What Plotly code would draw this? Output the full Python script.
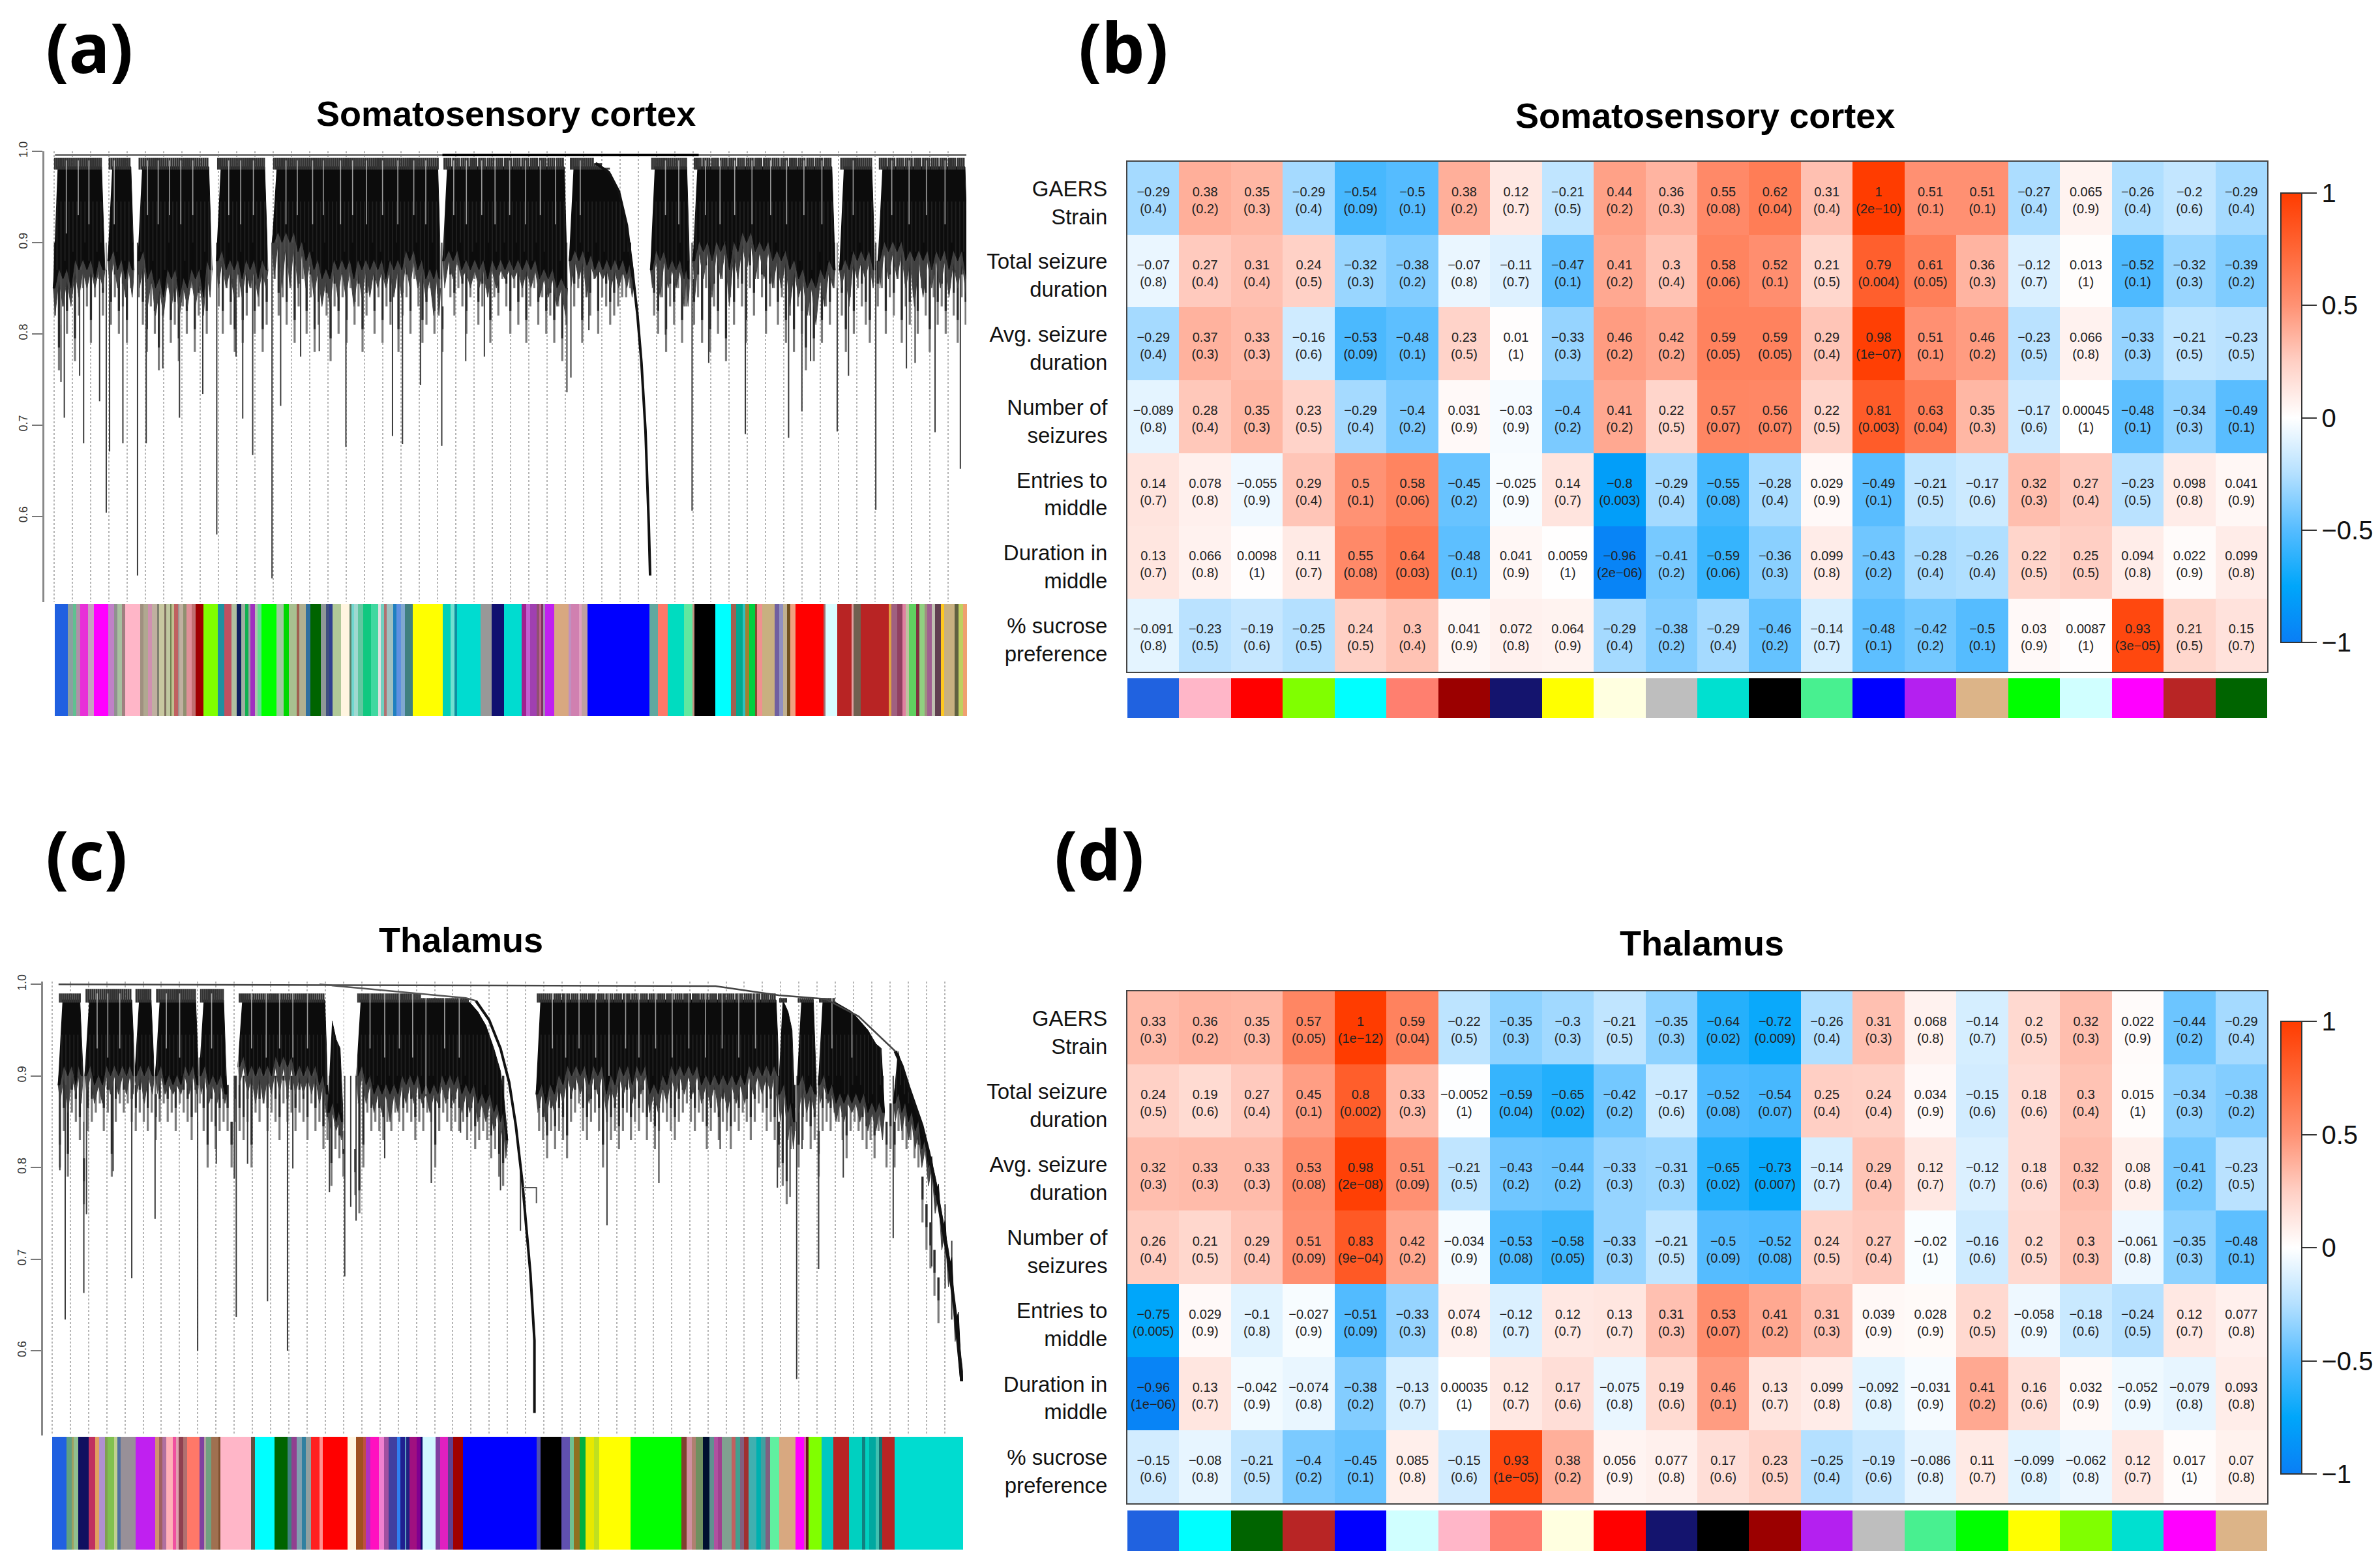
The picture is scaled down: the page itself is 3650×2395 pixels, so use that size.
import plotly.graph_objects as go

W, H = 3650, 2395

# ---------- module-trait tables ----------
trait_labels = ["GAERS<br>Strain", "Total seizure<br>duration", "Avg. seizure<br>duration", "Number of<br>seizures",
                "Entries to<br>middle", "Duration in<br>middle", "% sucrose<br>preference"]

b_z = [
 [-0.29,0.38,0.35,-0.29,-0.54,-0.5,0.38,0.12,-0.21,0.44,0.36,0.55,0.62,0.31,1,0.51,0.51,-0.27,0.065,-0.26,-0.2,-0.29],
 [-0.07,0.27,0.31,0.24,-0.32,-0.38,-0.07,-0.11,-0.47,0.41,0.3,0.58,0.52,0.21,0.79,0.61,0.36,-0.12,0.013,-0.52,-0.32,-0.39],
 [-0.29,0.37,0.33,-0.16,-0.53,-0.48,0.23,0.01,-0.33,0.46,0.42,0.59,0.59,0.29,0.98,0.51,0.46,-0.23,0.066,-0.33,-0.21,-0.23],
 [-0.089,0.28,0.35,0.23,-0.29,-0.4,0.031,-0.03,-0.4,0.41,0.22,0.57,0.56,0.22,0.81,0.63,0.35,-0.17,0.00045,-0.48,-0.34,-0.49],
 [0.14,0.078,-0.055,0.29,0.5,0.58,-0.45,-0.025,0.14,-0.8,-0.29,-0.55,-0.28,0.029,-0.49,-0.21,-0.17,0.32,0.27,-0.23,0.098,0.041],
 [0.13,0.066,0.0098,0.11,0.55,0.64,-0.48,0.041,0.0059,-0.96,-0.41,-0.59,-0.36,0.099,-0.43,-0.28,-0.26,0.22,0.25,0.094,0.022,0.099],
 [-0.091,-0.23,-0.19,-0.25,0.24,0.3,0.041,0.072,0.064,-0.29,-0.38,-0.29,-0.46,-0.14,-0.48,-0.42,-0.5,0.03,0.0087,0.93,0.21,0.15],
]
b_p = [
 "0.4 0.2 0.3 0.4 0.09 0.1 0.2 0.7 0.5 0.2 0.3 0.08 0.04 0.4 2e-10 0.1 0.1 0.4 0.9 0.4 0.6 0.4",
 "0.8 0.4 0.4 0.5 0.3 0.2 0.8 0.7 0.1 0.2 0.4 0.06 0.1 0.5 0.004 0.05 0.3 0.7 1 0.1 0.3 0.2",
 "0.4 0.3 0.3 0.6 0.09 0.1 0.5 1 0.3 0.2 0.2 0.05 0.05 0.4 1e-07 0.1 0.2 0.5 0.8 0.3 0.5 0.5",
 "0.8 0.4 0.3 0.5 0.4 0.2 0.9 0.9 0.2 0.2 0.5 0.07 0.07 0.5 0.003 0.04 0.3 0.6 1 0.1 0.3 0.1",
 "0.7 0.8 0.9 0.4 0.1 0.06 0.2 0.9 0.7 0.003 0.4 0.08 0.4 0.9 0.1 0.5 0.6 0.3 0.4 0.5 0.8 0.9",
 "0.7 0.8 1 0.7 0.08 0.03 0.1 0.9 1 2e-06 0.2 0.06 0.3 0.8 0.2 0.4 0.4 0.5 0.5 0.8 0.9 0.8",
 "0.8 0.5 0.6 0.5 0.5 0.4 0.9 0.8 0.9 0.4 0.2 0.4 0.2 0.7 0.1 0.2 0.1 0.9 1 3e-05 0.5 0.7",
]
b_colors = ["#2062e0","#ffb6c8","#ff0000","#80ff00","#00ffff","#ff7f6f","#9b0000","#14146e","#ffff00","#ffffe0","#bebebe",
            "#00e0d0","#000000","#48f090","#0000ff","#b420f0","#dcb488","#00ff00","#d0ffff","#ff00ff","#b82525","#006400"]

d_z = [
 [0.33,0.36,0.35,0.57,1,0.59,-0.22,-0.35,-0.3,-0.21,-0.35,-0.64,-0.72,-0.26,0.31,0.068,-0.14,0.2,0.32,0.022,-0.44,-0.29],
 [0.24,0.19,0.27,0.45,0.8,0.33,-0.0052,-0.59,-0.65,-0.42,-0.17,-0.52,-0.54,0.25,0.24,0.034,-0.15,0.18,0.3,0.015,-0.34,-0.38],
 [0.32,0.33,0.33,0.53,0.98,0.51,-0.21,-0.43,-0.44,-0.33,-0.31,-0.65,-0.73,-0.14,0.29,0.12,-0.12,0.18,0.32,0.08,-0.41,-0.23],
 [0.26,0.21,0.29,0.51,0.83,0.42,-0.034,-0.53,-0.58,-0.33,-0.21,-0.5,-0.52,0.24,0.27,-0.02,-0.16,0.2,0.3,-0.061,-0.35,-0.48],
 [-0.75,0.029,-0.1,-0.027,-0.51,-0.33,0.074,-0.12,0.12,0.13,0.31,0.53,0.41,0.31,0.039,0.028,0.2,-0.058,-0.18,-0.24,0.12,0.077],
 [-0.96,0.13,-0.042,-0.074,-0.38,-0.13,0.00035,0.12,0.17,-0.075,0.19,0.46,0.13,0.099,-0.092,-0.031,0.41,0.16,0.032,-0.052,-0.079,0.093],
 [-0.15,-0.08,-0.21,-0.4,-0.45,0.085,-0.15,0.93,0.38,0.056,0.077,0.17,0.23,-0.25,-0.19,-0.086,0.11,-0.099,-0.062,0.12,0.017,0.07],
]
d_p = [
 "0.3 0.2 0.3 0.05 1e-12 0.04 0.5 0.3 0.3 0.5 0.3 0.02 0.009 0.4 0.3 0.8 0.7 0.5 0.3 0.9 0.2 0.4",
 "0.5 0.6 0.4 0.1 0.002 0.3 1 0.04 0.02 0.2 0.6 0.08 0.07 0.4 0.4 0.9 0.6 0.6 0.4 1 0.3 0.2",
 "0.3 0.3 0.3 0.08 2e-08 0.09 0.5 0.2 0.2 0.3 0.3 0.02 0.007 0.7 0.4 0.7 0.7 0.6 0.3 0.8 0.2 0.5",
 "0.4 0.5 0.4 0.09 9e-04 0.2 0.9 0.08 0.05 0.3 0.5 0.09 0.08 0.5 0.4 1 0.6 0.5 0.3 0.8 0.3 0.1",
 "0.005 0.9 0.8 0.9 0.09 0.3 0.8 0.7 0.7 0.7 0.3 0.07 0.2 0.3 0.9 0.9 0.5 0.9 0.6 0.5 0.7 0.8",
 "1e-06 0.7 0.9 0.8 0.2 0.7 1 0.7 0.6 0.8 0.6 0.1 0.7 0.8 0.8 0.9 0.2 0.6 0.9 0.9 0.8 0.8",
 "0.6 0.8 0.5 0.2 0.1 0.8 0.6 1e-05 0.2 0.9 0.8 0.6 0.5 0.4 0.6 0.8 0.7 0.8 0.8 0.7 1 0.8",
]
d_colors = ["#2062e0","#00ffff","#006400","#b82525","#0000ff","#d0ffff","#ffb6c8","#ff7f6f","#ffffe0","#ff0000","#14146e",
            "#000000","#9b0000","#b420f0","#bebebe","#48f090","#00ff00","#ffff00","#80ff00","#00e0d0","#ff00ff","#dcb488"]

cb_ticks = [-1, -0.5, 0, 0.5, 1]
cb_text = ["\u22121", "\u22120.5", "0", "0.5", "1"]
scale = [[0, "#0a7ef5"], [0.125, "#00a6fa"], [0.25, "#55bcff"], [0.375, "#b4e0ff"], [0.5, "#ffffff"],
         [0.625, "#ffcfc4"], [0.75, "#ff9274"], [0.875, "#ff6636"], [1, "#ff3c00"]]

# ---------- dendrogram (a): leaf position, height ----------
a_x = [[83,95,107,119,131,143,155],[165,177,189,199],[210,222,234,246,258,270,282,294,306,316],[328,340,352,364,376,388,400],
       [412,424,436,448,460,472,484,496,508,520,532,544,556,568,580,592,604,616,628,640,652,660],
       [668,681,694,707,720,733,746,759,772,785,798,811,824,837,850],
       [858,870,882,894,906,918,930,942,950],[980,992,1004,1016,1028,1034],
       [1044,1057,1070,1083,1096,1109,1122,1135,1148,1161,1174,1187,1200,1213,1226,1239,1252],
       [1264,1276,1288,1300,1312],[1322,1335,1348,1361,1374,1387,1400,1413,1426,1439,1452]]
a_top = [[.993]*7,[.993]*4,[.993]*10,[.993]*7,[.993]*22,[.993]*15,
         [.993,.993,.993,.987,.982,.975,.956,.919,.872],[.993]*6,[.993]*17,[.993]*5,[.993]*11]
a_black = [[.85,.86,.85,.87,.87,.86,.87],[.88,.87,.86,.87],[.88,.86,.85,.84,.86,.84,.85,.86,.84,.87],[.88,.87,.87,.86,.87,.86,.87],
           [.90,.90,.90,.89,.88,.87,.86,.86,.87,.87,.86,.87,.87,.87,.86,.87,.87,.88,.87,.86,.86,.86],
           [.88,.88,.87,.87,.87,.86,.87,.87,.87,.87,.87,.86,.86,.85,.85],
           [.88,.88,.875,.87,.87,.87,.87,.865,.86],[.87,.88,.87,.87,.86,.86],
           [.88,.89,.88,.89,.87,.89,.90,.89,.89,.88,.88,.87,.86,.85,.85,.86,.87],[.87,.87,.88,.88,.87],
           [.88,.89,.89,.88,.88,.88,.87,.88,.87,.88,.86]]
a_hair = [[.82,.83,.83,.84,.85,.85,.85],[.85,.85,.84,.84],[.85,.83,.82,.82,.83,.82,.83,.83,.82,.84],[.85,.85,.84,.84,.85,.84,.85],
          [.86,.85,.85,.85,.85,.84,.83,.83,.84,.84,.83,.84,.84,.85,.85,.84,.84,.85,.85,.84,.82,.82],
          [.85,.86,.86,.85,.85,.84,.85,.86,.86,.85,.85,.84,.84,.83,.82],
          [.85,.86,.84,.86,.86,.85,.85,.85,.84],[.85,.84,.85,.85,.83,.83],
          [.84,.86,.84,.86,.83,.86,.87,.86,.86,.85,.85,.83,.84,.82,.81,.83,.85],[.85,.83,.86,.86,.85],
          [.85,.86,.86,.85,.83,.84,.85,.85,.84,.85,.84]]
# tips of the hanging branches, one per 6 leaf units from 83 (99 = no branch)
a_tips = [82,76,83,80,84,77,82,85,83,79,84,86,82,99,81,84,80,83,79,85,
          99,84,81,78,83,80,76,82,85,79,81,77,83,80,85,78,82,84,80,99,
          99,83,80,85,81,78,84,79,82,85,80,83,78,81,99,86,82,84,81,85,
          79,83,86,80,84,78,81,85,82,77,83,80,84,79,85,81,83,78,82,86,
          80,84,79,83,81,85,78,82,84,80,86,83,79,81,85,80,82,78,99,84,
          82,85,83,80,84,86,81,83,85,79,84,82,86,83,80,85,81,84,79,83,
          85,81,84,80,82,79,83,77,81,99,83,85,79,84,82,86,80,84,83,81,
          82,83,84,84,85,99,99,99,99,99,82,80,84,78,83,81,85,79,83,99,
          81,84,79,85,78,83,80,86,77,84,81,85,83,79,85,82,86,84,80,83,
          85,81,84,79,82,78,83,80,76,82,77,84,79,83,81,85,99,82,78,84,
          80,85,83,81,79,99,83,85,80,84,82,86,79,83,81,84,80,85,82,78,
          84,81,83,80,85,82,79,84,81]
a_spike_x = [92,97,120,126,150,160,165,185,207,220,245,270,305,326,355,365,380,409,422,452,480,520,590,605,632,664,700,728,852,858,
             885,1040,1000,1065,1120,1185,1205,1218,1258,1275,1316,1362,1375,1405,1443]
a_spike_h = [.747,.708,.754,.680,.726,.604,.671,.680,.535,.680,.762,.708,.734,.580,.775,.707,.667,.532,.721,.775,.781,.676,.688,.679,
             .744,.677,.770,.775,.736,.752,.804,.606,.799,.768,.690,.686,.715,.770,.693,.754,.607,.762,.768,.692,.652]
a_fall_x = [895,915,930,942,950,958,964,970,975,977]
a_fall_h = [.987,.977,.956,.919,.872,.820,.768,.694,.590,.535]
a_slit_x = [100,118,134,160,172,202,222,238,255,272,290,318,344,362,381,403,430,447,470,486,512,530,551,575,598,622,640,662,
            682,701,724,744,766,790,812,835,853,872,1000,1020,1037,1060,1082,1104,1130,1158,1182,1208,1235,1258,1282,1314,1340,1366,1392,1420]
a_slit_h = [.91,.93,.92,.87,.92,.83,.93,.92,.93,.92,.93,.83,.93,.92,.93,.87,.92,.93,.92,.93,.92,.93,.92,.93,.92,.93,.92,.85,
            .93,.92,.93,.92,.93,.92,.93,.92,.85,.93,.93,.92,.83,.93,.92,.93,.92,.93,.92,.93,.92,.85,.93,.83,.93,.92,.93,.92]
a_line_x = [83,1452]
a_line_h = [.996,.996]
a_heavy_x = [665,1050]
a_heavy_h = [.996,.996]

# ---------- dendrogram (c) ----------
c_x = [[90,102,114,122],[130,142,154,166,178,190,200],[205,217,229],[236,248,260,272,284,296],[302,314,326,338],
       [360,372,384,396,408,420,432,444,456,468,480,490],[495,505,513],
       [538,550,562,574,586,598,610,622,634,646,658,670,682,694,706,718,730,742,752,760],
       [808,820,833,846,859,872,885,898,911,924,937,950,963,976,989,1002,1015,1028,1041,1054,1067,1080,1093,1106,1119,1132,1145,1158,1168],
       [1172,1184,1192],[1200,1212,1224],[1232,1244,1256,1268,1280,1292,1304,1316,1326],
       [1345,1355,1365,1375,1385,1395,1405,1415,1425,1435,1445]]
c_top = [[.99]*4,[.995]*7,[.995]*3,[.995]*6,[.995]*4,[.99]*12,[.96,.94,.93],
         [.99,.99,.99,.99,.99,.99,.99,.99,.985,.985,.985,.985,.985,.985,.98,.97,.955,.93,.905,.87],
         [.99]*29,[.985,.97,.95],[.985]*3,[.985,.985,.98,.975,.97,.96,.95,.935,.93],
         [.927,.911,.888,.867,.846,.817,.783,.741,.70,.642,.567]]
c_black = [[.89,.90,.89,.90],[.90,.89,.89,.90,.90,.90,.90],[.90,.90,.90],[.90,.89,.89,.89,.90,.89],[.90,.89,.89,.88],
           [.91,.90,.90,.90,.90,.91,.91,.90,.90,.90,.89,.88],[.86,.85,.85],
           [.90,.89,.88,.88,.88,.88,.89,.89,.88,.88,.88,.89,.89,.88,.88,.87,.87,.86,.85,.83],
           [.88,.87,.88,.89,.90,.90,.89,.90,.88,.89,.90,.89,.90,.88,.88,.89,.90,.90,.90,.89,.89,.89,.89,.89,.89,.90,.90,.90,.90],
           [.88,.86,.85],[.89,.88,.88],[.89,.88,.87,.87,.87,.87,.86,.86,.86],
           [.87,.86,.85,.84,.82,.80,.77,.73,.69,.63,.567]]
c_hair = [[.87,.86,.88,.87],[.88,.87,.87,.88,.88,.88,.88],[.88,.87,.88],[.88,.88,.88,.88,.88,.88],[.88,.87,.87,.87],
          [.89,.88,.87,.87,.88,.88,.88,.88,.88,.88,.87,.86],[.84,.84,.83],
          [.87,.87,.86,.86,.85,.86,.87,.87,.87,.86,.87,.87,.87,.86,.86,.85,.85,.84,.83,.81],
          [.86,.85,.86,.87,.88,.88,.87,.88,.86,.87,.88,.87,.88,.86,.86,.87,.88,.88,.88,.87,.87,.86,.86,.87,.87,.88,.88,.88,.87],
          [.85,.83,.82],[.86,.86,.86],[.87,.87,.85,.85,.86,.85,.84,.84,.83],
          [.85,.84,.83,.82,.80,.78,.75,.71,.67,.61,.567]]
# tips of the hanging branches, one per 6 leaf units from 90 (99 = no branch)
c_tips = [80,84,79,86,85,83,76,84,85,86,87,84,86,79,85,87,86,87,85,84,
          86,85,84,86,83,85,87,85,86,84,87,86,85,83,86,87,84,80,85,82,
          84,85,84,80,85,84,83,85,80,86,85,87,84,86,85,83,87,85,86,84,
          86,85,83,87,84,85,82,83,78,82,81,79,99,99,77,75,80,86,84,85,
          84,83,85,84,86,85,84,86,85,83,85,84,86,85,80,84,86,85,84,85,
          84,85,83,84,82,83,84,83,81,82,79,78,99,99,99,99,99,99,99,99,
          84,83,81,84,82,84,83,81,85,86,87,84,83,85,86,84,80,85,83,84,
          82,84,86,83,85,84,86,83,85,82,84,86,85,84,83,85,86,87,85,84,
          86,85,82,84,86,83,85,84,82,85,84,86,85,83,85,87,86,84,85,83,
          80,78,76,82,84,80,83,85,82,83,79,84,85,84,86,85,83,81,84,85,
          84,83,82,83,81,84,85,80,82,80,84,83,82,83,81,80,74,71,69,66,
          63,99,99,99,99,99]
c_spike_x = [90,98,126,130,170,198,233,297,325,355,352,372,402,432,440,495,518,535,527,578,648,692,752,782,912,990,1082,1168,1197,1187,
             1230,1205,1267,1342,1400,1430,1420]
c_spike_h = [.797,.634,.663,.749,.796,.679,.744,.600,.804,.637,.788,.804,.654,.600,.799,.773,.681,.742,.757,.810,.783,.838,.775,.731,
             .737,.783,.820,.778,.569,.768,.689,.82,.789,.723,.692,.634,.668]
c_spike_top = [.90,.90,.90,.90,.90,.90,.90,.90,.90,.90,.90,.90,.90,.90,.90,.90,.90,.90,.90,.90,.90,.90,.88,.80,.90,.90,.90,.90,.90,.90,
               .90,.90,.90,.90,.80,.72,.76]
c_fall1_x = [715,735,752,765,775,785,790,797,803,803]
c_fall1_h = [.982,.961,.93,.893,.846,.783,.741,.684,.611,.532]
c_fall2_x = [1345,1355,1365,1375,1385,1395,1405,1415,1425,1435,1445]
c_fall2_h = [.927,.911,.888,.867,.846,.817,.783,.741,.70,.642,.567]
c_hook_x = [785,806,806]
c_hook_h = [.778,.778,.761]
c_slit_x = [126,146,162,180,202,232,250,270,299,318,342,358,378,400,420,440,462,492,516,536,556,578,600,620,640,668,690,
            830,850,870,895,915,940,960,985,1010,1035,1060,1085,1110,1135,1170,1196,1228,1250,1280]
c_slit_h = [.85,.93,.92,.93,.86,.88,.93,.92,.85,.93,.91,.89,.93,.92,.93,.92,.93,.89,.82,.90,.93,.92,.93,.92,.88,.93,.92,
            .93,.92,.93,.92,.90,.93,.92,.93,.92,.93,.92,.93,.92,.93,.90,.85,.86,.93,.92]
c_line_x = [88,1075,1170,1240,1290,1345]
c_line_h = [1.0,.998,.988,.984,.965,.927]
c_arc_x = [480,600,700,715]
c_arc_h = [1.0,.992,.985,.982]

# ---------- module colour bars: boundaries along the leaf order ----------
sa_left = [50,92,108,118,132,157,175,222,240,250,266,276,323,335,350,362,378,384,402,408,420,425,432,446,450,462,472,490,502,527,573,594,616,634,647,660,670,677,692,700,712,760,783,800,825,833,855,870,902,920,930,940,968,995,1002,1010,1022,1038,1065,1088,1096,1105,1115,1135,1145,1160,1172,1198,1295,1320,1332,1340,1415,1450,1490,1547]
sa_left_c = ["#2060e0","#8aa0a0","#60c090","#b090a8","#e830d8","#c8a0c0","#ff00ff","#c080c8","#909090","#a8c0a0","#a08080","#ffb6c8","#a09080","#b0a890","#d090b0","#c0b0a0","#808070","#c8c8a0","#807060","#c0c8a0","#708050","#c0c090","#c06060","#a09090","#c0b0a0","#909070","#e09098","#c07070","#a00000","#80ff00","#2090a0","#c05060","#b0c0a0","#102060","#a0b0a0","#10b050","#a0a0a0","#a030c0","#b0c0b0","#60e090","#00ff00","#a0c8a0","#00d800","#a8c090","#a06050","#b0b090","#3070a0","#006400","#909898","#405080","#304090","#b0c898","#fff5e0","#608068","#70d8d0","#a0d8d0","#60c8a0","#10c880","#40d8a0","#e0e0e0","#70d0c0","#b07070","#a0c0c0","#2080c0","#6090e0","#80a8d0","#408080","#ffff00","#00d0b8","#70e0d0","#1090a0","#00dcd0","#989898","#101070","#00dcd0"]
sa_right = [0,15,28,48,56,62,68,75,104,150,158,185,192,212,410,438,468,520,548,554,620,672,688,708,718,730,748,755,772,812,826,838,850,862,878,968,975,1012,1058,1064,1088,1178,1185,1205,1222,1232,1242,1265,1275,1292,1300,1315,1325,1345,1355,1388,1400,1415,1428]
sa_right_c = ["#a02090","#c060d0","#a040b0","#905070","#c06090","#803060","#a090b0","#c020f0","#d8a880","#c090c0","#d080b0","#e0a0c0","#c0a0a0","#0000ff","#60a8a0","#ff7868","#00dcc0","#60e8a0","#c09080","#000000","#00ffff","#a06050","#00a890","#30c0c0","#a08030","#00d040","#805030","#f09090","#c8b080","#7060a0","#9090c0","#c0b090","#705020","#f0a080","#ff0000","#a07070","#d8fcff","#b82424","#e0a0a0","#706050","#b82424","#e0a040","#a06080","#904060","#e080a0","#c0c0a0","#60d060","#803040","#90d080","#a09080","#a06090","#c0c0b0","#604050","#ffc820","#c8b080","#606040","#c0d060","#f0a070"]
sc_left = [42,88,105,112,126,158,180,192,212,220,240,250,262,310,372,384,396,408,428,440,448,462,474,515,528,536,552,576,582,680,692,755,796,810,825,842,856,872,900,910,988,1016,1038,1048,1062,1090,1105,1120,1148,1158,1172,1178,1188,1210,1222,1230,1270,1285,1310,1328,1358]
sc_left_c = ["#2060e0","#60a080","#a0a060","#90c090","#101060","#c03060","#e0a060","#b090d0","#80a050","#80c050","#c0d090","#5070a0","#989098","#c020f0","#d09070","#a06060","#b070a0","#ffb0b8","#f050a0","#e0a0b0","#904050","#b07070","#ff7868","#8040a0","#b0a0a0","#70a080","#a07050","#805030","#ffb6c8","#605040","#00ffff","#006400","#408080","#904090","#80a0b0","#3080a0","#90a0a0","#ff2020","#ff9090","#ff0000","#fff5e0","#a05020","#c05040","#b030c0","#ff10c0","#f080d0","#a050a0","#4040a0","#3080f0","#202090","#60a0c0","#202080","#a01080","#800090","#101070","#d0f8ff","#8040a0","#e020c0","#604090","#a00000"]
sc_right = [-189,48,60,128,155,168,185,205,232,248,350,512,528,545,558,582,602,616,630,642,672,685,700,712,728,752,768,782,796,825,878,905,912,920,962,998,1050,1090,1102,1115,1135,1145,1155,1195,1415]
sc_right_c = ["#0000ff","#5050b0","#000000","#6050b0","#70c090","#907020","#00b040","#e8e800","#c0e020","#ffff00","#00ff00","#804030","#d090a0","#b08070","#709060","#001030","#609090","#b050a0","#a04090","#80a090","#c06060","#40a090","#806080","#a03030","#40b0b0","#00b0b0","#40a0a0","#806080","#60f0a0","#d8a880","#ff00ff","#d060a0","#701020","#80ff00","#00c8c0","#b82424","#00d0c0","#108080","#00d0c0","#00a8a0","#40c0b0","#107070","#b82424","#00dcd0"]
strip_offset = 1547
FONT = "Liberation Sans"


def fx(p):
    return p / W


def fy(p):
    return 1 - p / H


def mono(v):
    return str(v).replace("-", "\u2212")


fig = go.Figure()
layout = dict(width=W, height=H, margin=dict(l=0, r=0, t=0, b=0, autoexpand=False), autosize=False, paper_bgcolor="white",
              plot_bgcolor="white", showlegend=False, bargap=0, font=dict(family=FONT, color="#111"))


def add_heatmap(idx, z, p, cols, top, bot, strip_top, strip_bot, cb_top, cb_bot):
    xa, ya = f"x{idx}", f"y{idx}"
    tx, ty, tt = [], [], []
    for r, (row, s) in enumerate(zip(z, p)):
        for c, (v, q) in enumerate(zip(row, s.split())):
            tx.append(c)
            ty.append(r + .045)
            tt.append(f"{mono(v)}<br>({mono(q)})")
    fig.add_trace(go.Heatmap(
        z=z, x=list(range(22)), y=list(range(7)), colorscale=scale, zmin=-1, zmax=1,
        hoverinfo="skip", xaxis=xa, yaxis=ya,
        colorbar=dict(x=fx(3498), xanchor="left", y=fy(cb_top), yanchor="top", len=(cb_bot - cb_top) / H, lenmode="fraction",
                      thickness=32, thicknessmode="pixels", outlinecolor="#333", outlinewidth=2, ticks="outside", ticklen=22,
                      tickwidth=2, tickcolor="#333", tickvals=cb_ticks, ticktext=cb_text, xpad=0, ypad=0,
                      tickfont=dict(size=40, color="#111", family=FONT))))
    fig.add_trace(go.Scatter(x=tx, y=ty, text=tt, mode="text", textposition="middle center", hoverinfo="skip",
                             textfont=dict(size=20, color="#222", family=FONT), xaxis=xa, yaxis=ya))
    layout[f"xaxis{idx}"] = dict(domain=[fx(1729), fx(3477)], anchor=ya, range=[-.5, 21.5], showticklabels=False, ticks="",
                                 showgrid=False, zeroline=False, showline=True, linecolor="#444", linewidth=2, mirror=True)
    layout[f"yaxis{idx}"] = dict(domain=[fy(bot), fy(top)], anchor=xa, range=[6.5, -.5], tickvals=[i + .06 for i in range(7)], ticktext=trait_labels,
                                 ticks="outside", ticklen=22, tickcolor="rgba(0,0,0,0)", tickfont=dict(size=33, color="#111", family=FONT),
                                 showgrid=False, zeroline=False, showline=True, linecolor="#444", linewidth=2, mirror=True)
    xs, ys = f"x{idx+1}", f"y{idx+1}"
    fig.add_trace(go.Bar(x=list(range(22)), y=[1] * 22, width=1, marker=dict(color=cols, line_width=0), hoverinfo="skip", xaxis=xs, yaxis=ys))
    layout[f"xaxis{idx+1}"] = dict(domain=[fx(1729), fx(3477)], anchor=ys, range=[-.5, 21.5], visible=False)
    layout[f"yaxis{idx+1}"] = dict(domain=[fy(strip_bot), fy(strip_top)], anchor=xs, range=[0, 1], visible=False)


def add_dendro(idx, xs, tops, blacks, hairs, sx, sh, st, slit_x, slit_h, tips, tip0, capx, xr, px0, px1, top_px, bot_px, yr, tick0, dtick):
    xa, ya = f"x{idx}", f"y{idx}"

    def in_run(v):
        return any(r[0] <= v <= r[-1] for r in xs)

    # hanging branches: grey full length, dark upper part
    gx, gy, dx, dy = [], [], [], []
    tx, ty = [], []
    for i, t in enumerate(tips):
        if t == 99:
            continue
        x = tip0 + 6 * i
        h = t / 100
        start = h + .05 if (x >= capx or not in_run(x)) else .90
        gx += [x, x, None]
        gy += [start, h, None]
        dx += [x, x, None]
        dy += [start, h + .025, None]
        tx += [x + 3, x + 3, None]
        ty += [.945, min(start, h + .05), None]
    fig.add_trace(go.Scatter(x=gx, y=gy, mode="lines", line=dict(color="#7a7a7a", width=3.2), hoverinfo="skip", xaxis=xa, yaxis=ya))
    fig.add_trace(go.Scatter(x=dx, y=dy, mode="lines", line=dict(color="#2a2a2a", width=3.2), hoverinfo="skip", xaxis=xa, yaxis=ya))
    lx, ly = [], []
    for x, h, s in zip(sx, sh, st):
        lx += [x, x, None]
        ly += [s, h, None]
    fig.add_trace(go.Scatter(x=lx, y=ly, mode="lines", line=dict(color="#3a3a3a", width=2), hoverinfo="skip", xaxis=xa, yaxis=ya))
    # grey hairs, black mass and the thin branches on top of each cluster
    cx, cy = [], []
    for x, t, b, h in zip(xs, tops, blacks, hairs):
        hx, hy, bx, by = [], [], [], []
        for i in range(len(x)):
            hx += [x[i]]
            hy += [h[i]]
            bx += [x[i]]
            by += [b[i]]
            if i + 1 < len(x):
                m = (x[i] + x[i + 1]) / 2
                hx += [m]
                hy += [max(b[i], b[i + 1])]
                bx += [m]
                by += [max(b[i], b[i + 1]) + .012]
        hx_flank = [x[-1] + 3] + [v for v in x[::-1]] + [x[0] - 3]
        hy_flank = [b[-1]] + [v + .02 for v in b[::-1]] + [b[0]]
        fig.add_trace(go.Scatter(x=hx + hx_flank, y=hy + hy_flank, mode="lines", fill="toself", fillcolor="#404040",
                                 line=dict(color="#404040", width=1), hoverinfo="skip", xaxis=xa, yaxis=ya))
        # tapered flanks: wider at the bottom of the mass, narrower at the top
        top_x = [x[0] + 4] + x[1:-1] + [x[-1] - 2]
        low = [min(v, .983) for v in t]
        fig.add_trace(go.Scatter(x=top_x + [x[-1] + 3] + bx[::-1] + [x[0] - 3], y=low + [b[-1]] + by[::-1] + [b[0]],
                                 mode="lines", fill="toself", fillcolor="#0c0c0c",
                                 line=dict(color="#0c0c0c", width=1), hoverinfo="skip", xaxis=xa, yaxis=ya))
        for i in range(len(x)):
            if t[i] >= .98:
                for off in (0, 3, 6, 9):
                    if x[i] + off <= x[-1] - 2:
                        cx += [x[i] + off, x[i] + off, None]
                        cy += [.98, t[i], None]
    fig.add_trace(go.Scatter(x=cx, y=cy, mode="lines", line=dict(color="#333", width=3), hoverinfo="skip", xaxis=xa, yaxis=ya))
    # faint texture inside the mass
    fig.add_trace(go.Scatter(x=tx, y=ty, mode="lines", line=dict(color="rgba(255,255,255,.08)", width=2), hoverinfo="skip", xaxis=xa, yaxis=ya))
    # light slits between branches
    lx, ly = [], []
    for x, h in zip(slit_x, slit_h):
        lx += [x, x, None]
        ly += [.99, h, None]
    fig.add_trace(go.Scatter(x=lx, y=ly, mode="lines", line=dict(color="rgba(255,255,255,.6)", width=1.6), hoverinfo="skip", xaxis=xa, yaxis=ya))
    layout[f"xaxis{idx}"] = dict(domain=[fx(px0), fx(px1)], anchor=ya, range=xr, showticklabels=False, ticks="", zeroline=False, showline=False,
                                 showgrid=True, tick0=tick0, dtick=dtick, gridcolor="#b5b5b5", griddash="dot", gridwidth=1.5)
    layout[f"yaxis{idx}"] = dict(domain=[fy(bot_px), fy(top_px)], anchor=xa, range=yr, tickvals=[.6, .7, .8, .9, 1.0], ticktext=["0.6", "0.7", "0.8", "0.9", "1.0"],
                                 tickangle=-90, ticks="outside", ticklen=16, tickwidth=1.5, tickcolor="#777", tickfont=dict(size=18, color="#333", family=FONT),
                                 showgrid=False, zeroline=False, showline=True, linecolor="#888", linewidth=2.5)


def add_line(idx, x, h, color, width):
    fig.add_trace(go.Scatter(x=x, y=h, mode="lines", line=dict(color=color, width=width), hoverinfo="skip", xaxis=f"x{idx}", yaxis=f"y{idx}"))


def add_strip(idx, b1, c1, b2, c2, px0, px1, top, bot):
    edges = b1[:-1] + [v + strip_offset for v in b2]
    cols = c1 + c2
    cx = [(edges[i] + edges[i + 1]) / 2 for i in range(len(cols))]
    wd = [edges[i + 1] - edges[i] for i in range(len(cols))]
    fig.add_trace(go.Bar(x=cx, y=[1] * len(cx), width=wd, marker=dict(color=cols, line_width=0), hoverinfo="skip", xaxis=f"x{idx}", yaxis=f"y{idx}"))
    layout[f"xaxis{idx}"] = dict(domain=[fx(px0), fx(px1)], anchor=f"y{idx}", range=[edges[0], edges[-1]], visible=False)
    layout[f"yaxis{idx}"] = dict(domain=[fy(bot), fy(top)], anchor=f"x{idx}", range=[0, 1], visible=False)


add_dendro(1, a_x, a_top, a_black, a_hair, a_spike_x, a_spike_h, [.90] * len(a_spike_x), a_slit_x, a_slit_h, a_tips, 83, 99999, [67, 1452], 68, 1482, 232, 923, [.506, 1.0], 109.5, 27.4)
add_line(1, a_fall_x, a_fall_h, "#111", 4)
add_line(1, a_line_x, a_line_h, "#777", 3)
add_line(1, a_heavy_x, a_heavy_h, "#000", 3.5)
add_strip(2, sa_left, sa_left_c, sa_right, sa_right_c, 84, 1483, 926, 1098)

add_dendro(3, c_x, c_top, c_black, c_hair, c_spike_x, c_spike_h, c_spike_top, c_slit_x, c_slit_h, c_tips, 90, 1345, [64.7, 1447], 66, 1477, 1505, 2201, [.5075, 1.003], 105.6, 27.37)
add_line(3, c_fall1_x, c_fall1_h, "#111", 4)
add_line(3, c_fall2_x, c_fall2_h, "#111", 5)
add_line(3, c_hook_x, c_hook_h, "#555", 2)
add_line(3, c_line_x, c_line_h, "#444", 2.5)
add_line(3, c_arc_x, c_arc_h, "#555", 2.5)
add_strip(4, sc_left, sc_left_c, sc_right, sc_right_c, 80, 1477, 2203, 2376)

add_heatmap(5, b_z, b_p, b_colors, 248, 1030, 1040, 1101, 296, 985)
add_heatmap(7, d_z, d_p, d_colors, 1520, 2305, 2316, 2378, 1566, 2260)

titles = [("Somatosensory cortex", 776, 174), ("Somatosensory cortex", 2615, 177), ("Thalamus", 707, 1441), ("Thalamus", 2610, 1446)]
letters = [("(a)", 68, 72), ("(b)", 1652, 72), ("(c)", 68, 1309), ("(d)", 1615, 1309)]
ann = []
for t, x, y in titles:
    ann.append(dict(text=t, x=fx(x), y=fy(y), xref="paper", yref="paper", xanchor="center", yanchor="middle", showarrow=False,
                    font=dict(size=54, family=FONT, color="#000", weight="bold")))
for t, x, y in letters:
    ann.append(dict(text=t, x=fx(x), y=fy(y), xref="paper", yref="paper", xanchor="left", yanchor="middle", showarrow=False,
                    font=dict(size=105, family="Noto Sans", color="#000", weight="bold")))
layout["annotations"] = ann
fig.update_layout(**layout)
fig.write_html("out.html", config=dict(displayModeBar=False), post_script="document.body.style.margin='0';document.body.style.overflow='hidden';")
